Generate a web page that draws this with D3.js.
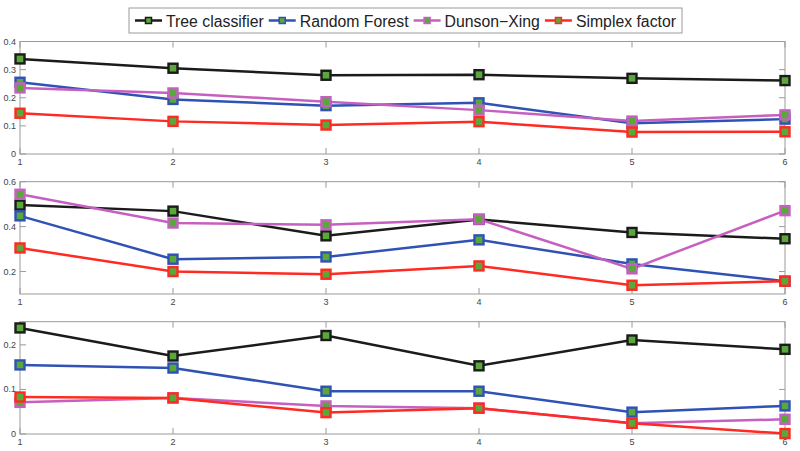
<!DOCTYPE html>
<html lang="en">
<head>
  <meta charset="UTF-8">
  <title>Classifier comparison</title>
  <style>
    body { margin: 0; background: #fff; font-family: "Liberation Sans", Arial, sans-serif; }
  </style>
  <script src="https://d3js.org/d3.v7.min.js"></script>
</head>
<body>
  <div id="chart"></div>
  <script>
    const xValues = [1, 2, 3, 4, 5, 6];
    const seriesNames = ["Tree classifier", "Random Forest", "Dunson\u2212Xing", "Simplex factor"];
    const seriesColors = ["#1b1b1b", "#2f52b4", "#c660c0", "#ff2a22"];

    // panel 1
    const treeA = [0.338, 0.305, 0.280, 0.282, 0.269, 0.261];
    const forestA = [0.255, 0.194, 0.172, 0.182, 0.109, 0.124];
    const dunsonA = [0.235, 0.217, 0.186, 0.156, 0.117, 0.139];
    const simplexA = [0.145, 0.116, 0.103, 0.115, 0.078, 0.079];
    // panel 2
    const treeB = [0.496, 0.469, 0.359, 0.432, 0.374, 0.346];
    const forestB = [0.448, 0.255, 0.265, 0.341, 0.234, 0.157];
    const dunsonB = [0.544, 0.416, 0.408, 0.433, 0.212, 0.471];
    const simplexB = [0.305, 0.200, 0.188, 0.225, 0.139, 0.157];
    // panel 3
    const treeC = [0.238, 0.175, 0.221, 0.153, 0.211, 0.190];
    const forestC = [0.155, 0.148, 0.096, 0.096, 0.049, 0.063];
    const dunsonC = [0.071, 0.081, 0.063, 0.058, 0.024, 0.033];
    const simplexC = [0.083, 0.081, 0.048, 0.058, 0.024, 0.001];

    const yTicksA = [0, 0.1, 0.2, 0.3, 0.4];
    const yTicksB = [0.2, 0.4, 0.6];
    const yTicksC = [0, 0.1, 0.2];

    const panels = [
      { top: 41.5, bottom: 154, domain: [0, 0.4], ticks: yTicksA, series: [treeA, forestA, dunsonA, simplexA] },
      { top: 181.7, bottom: 294, domain: [0.1, 0.6], ticks: yTicksB, series: [treeB, forestB, dunsonB, simplexB] },
      { top: 321.7, bottom: 434, domain: [0, 0.252], ticks: yTicksC, series: [treeC, forestC, dunsonC, simplexC] }
    ];

    const width = 800, height = 451;
    const left = 20, right = 785;
    const markerFill = "#5aa83c";
    const axisColor = "#9a9a9a";

    const svg = d3.select("#chart").append("svg")
        .attr("width", width)
        .attr("height", height);

    const x = d3.scaleLinear().domain([1, 6]).range([left, right]);
    const fmt = d => d === 0 ? "0" : d3.format(".1f")(d);

    panels.forEach(p => {
      const y = d3.scaleLinear().domain(p.domain).range([p.bottom, p.top]);
      const g = svg.append("g");

      g.append("rect")
          .attr("x", left).attr("y", p.top)
          .attr("width", right - left).attr("height", p.bottom - p.top)
          .attr("fill", "none")
          .attr("stroke", axisColor)
          .attr("stroke-width", 1);

      // x ticks, top and bottom, pointing inward
      xValues.forEach(v => {
        g.append("line")
            .attr("x1", x(v)).attr("x2", x(v))
            .attr("y1", p.bottom).attr("y2", p.bottom - 6)
            .attr("stroke", axisColor);
        g.append("line")
            .attr("x1", x(v)).attr("x2", x(v))
            .attr("y1", p.top).attr("y2", p.top + 6)
            .attr("stroke", axisColor);
        g.append("text")
            .attr("x", x(v)).attr("y", p.bottom + 11)
            .attr("text-anchor", "middle")
            .attr("font-size", 9)
            .attr("fill", "#444")
            .text(v);
      });

      // y ticks, left and right, pointing inward
      p.ticks.forEach(t => {
        g.append("line")
            .attr("x1", left).attr("x2", left + 6)
            .attr("y1", y(t)).attr("y2", y(t))
            .attr("stroke", axisColor);
        g.append("line")
            .attr("x1", right).attr("x2", right - 6)
            .attr("y1", y(t)).attr("y2", y(t))
            .attr("stroke", axisColor);
        g.append("text")
            .attr("x", 16).attr("y", y(t) + 3)
            .attr("text-anchor", "end")
            .attr("font-size", 9)
            .attr("fill", "#444")
            .text(fmt(t));
      });

      const line = d3.line()
          .x((d, i) => x(xValues[i]))
          .y(d => y(d));

      p.series.forEach((s, k) => {
        g.append("path")
            .datum(s)
            .attr("d", line)
            .attr("fill", "none")
            .attr("stroke", seriesColors[k])
            .attr("stroke-width", 2.5);
      });

      p.series.forEach((s, k) => {
        g.selectAll(null)
          .data(s)
          .join("rect")
            .attr("x", (d, i) => x(xValues[i]) - 4.5)
            .attr("y", d => y(d) - 4.5)
            .attr("width", 9).attr("height", 9)
            .attr("fill", markerFill)
            .attr("stroke", seriesColors[k])
            .attr("stroke-width", 2.4);
      });
    });

    // legend
    const legend = svg.append("g");
    const box = legend.append("rect")
        .attr("fill", "#fff")
        .attr("stroke", axisColor);
    let cx = 135;
    seriesNames.forEach((name, k) => {
      legend.append("line")
          .attr("x1", cx).attr("x2", cx + 27)
          .attr("y1", 20.5).attr("y2", 20.5)
          .attr("stroke", seriesColors[k])
          .attr("stroke-width", 2.5);
      legend.append("rect")
          .attr("x", cx + 13.5 - 3).attr("y", 20.5 - 3)
          .attr("width", 6).attr("height", 6)
          .attr("fill", markerFill)
          .attr("stroke", seriesColors[k])
          .attr("stroke-width", 1.5);
      const txt = legend.append("text")
          .attr("x", cx + 31).attr("y", 26.5)
          .attr("font-size", 15.8)
          .attr("fill", "#222")
          .text(name);
      cx = cx + 31 + txt.node().getComputedTextLength() + 5;
    });
    box.attr("x", 129).attr("y", 8)
       .attr("width", cx - 129 + 1).attr("height", 25);
  </script>
</body>
</html>
